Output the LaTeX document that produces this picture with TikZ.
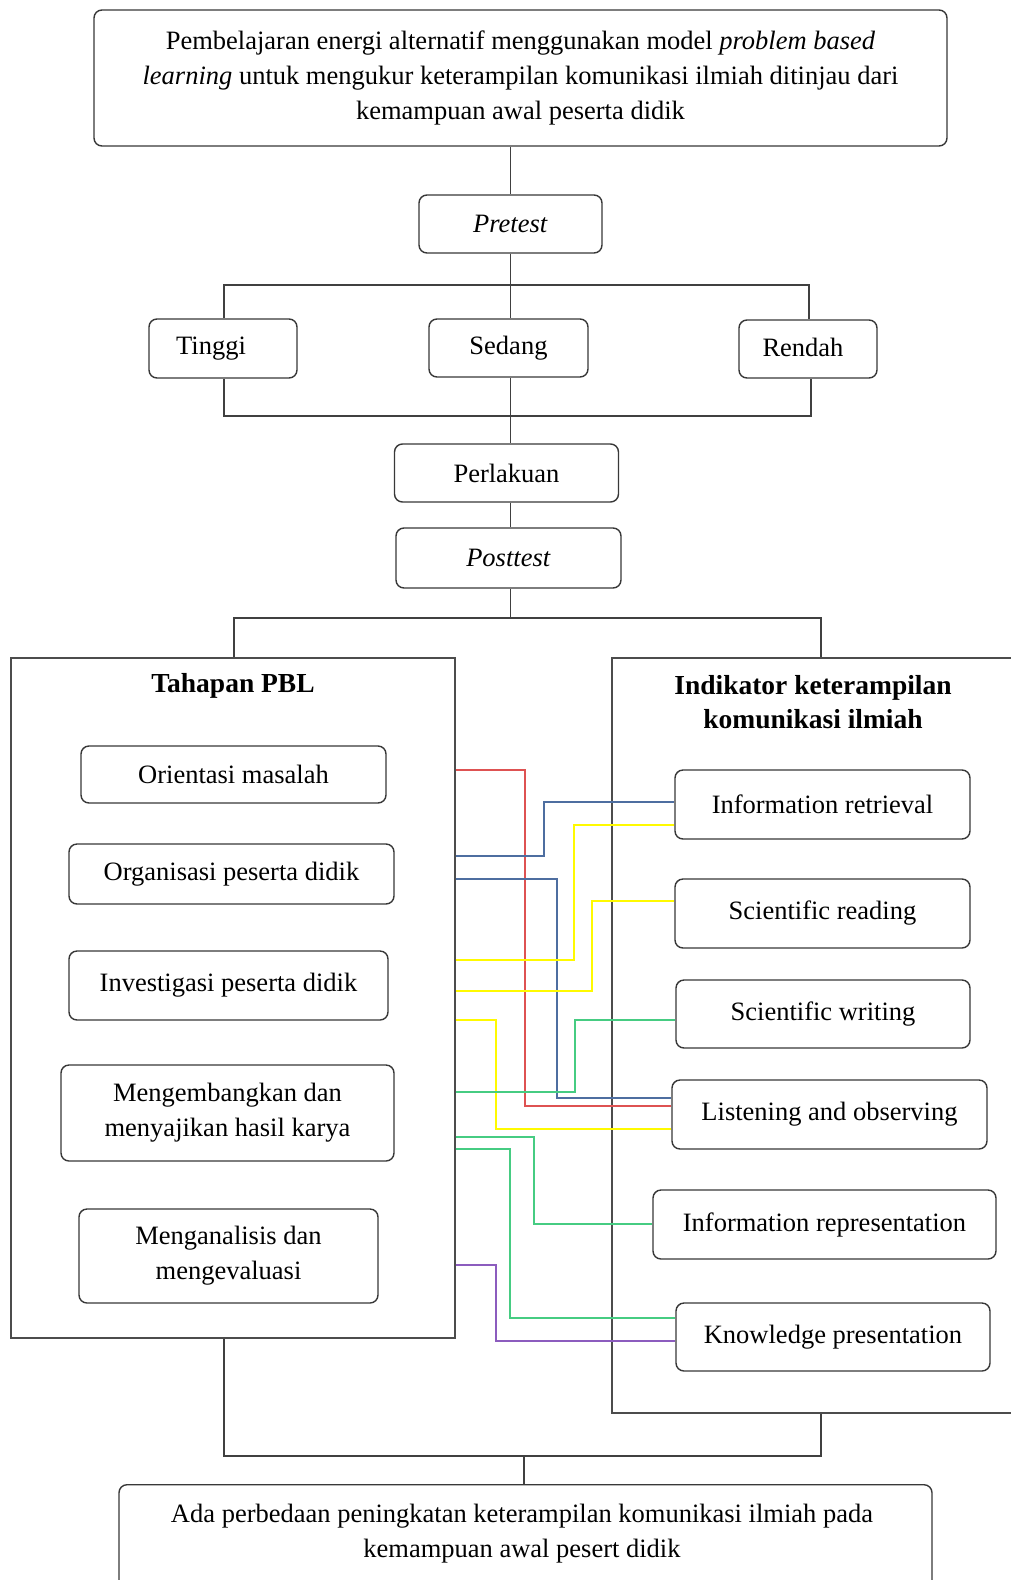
\documentclass[tikz,border=0pt]{standalone}
\usepackage{fontspec}
\setmainfont{Liberation Serif}
\begin{document}
\begin{tikzpicture}[x=1pt,y=-1pt,
  line width=1.3pt,
  box/.style={draw=black!78,rounded corners=8pt,line width=1.4pt,inner sep=0pt,align=center,
    font=\fontsize{26.5}{35}\selectfont},
  bigbox/.style={draw=black!70,line width=1.3pt,inner sep=0pt},
  conn/.style={draw=black!75,line width=1.3pt},
  ttl/.style={font=\fontsize{27.5}{34}\selectfont\bfseries,align=center,inner sep=0pt},
  cred/.style={draw=lred,line width=1.3pt},
  cblue/.style={draw=lblue,line width=1.3pt},
  cyel/.style={draw=lyel,line width=1.3pt},
  cgreen/.style={draw=lgreen,line width=1.3pt},
  cpurp/.style={draw=lpurp,line width=1.3pt}]
\definecolor{lred}{RGB}{222,82,82}
\definecolor{lblue}{RGB}{78,110,160}
\definecolor{lyel}{RGB}{255,250,0}
\definecolor{lgreen}{RGB}{70,204,130}
\definecolor{lpurp}{RGB}{140,92,190}
\useasboundingbox (0,0) rectangle (1011,1580);
\clip (0,0) rectangle (1011,1580);
\fill[white] (0,0) rectangle (1011,1580);

% top box
\node[box,minimum width=853pt,minimum height=136pt] (top) at (520.5,78)
  {Pembelajaran energi alternatif menggunakan model \textit{problem based}\\
   \textit{learning} untuk mengukur keterampilan komunikasi ilmiah ditinjau dari\\
   kemampuan awal peserta didik};
\node[box,minimum width=183pt,minimum height=58pt] (pre) at (510.5,224) {\textit{Pretest}};
\node[box,minimum width=148pt,minimum height=59pt] (ting) at (223,348.5) {Tinggi\hspace{24pt}};
\node[box,minimum width=159pt,minimum height=58pt] (sed) at (508.5,348) {Sedang};
\node[box,minimum width=138pt,minimum height=58pt] (ren) at (808,349) {\raisebox{3pt}{Rendah}\hspace{10pt}};
\node[box,minimum width=224pt,minimum height=58pt] (perl) at (506.5,473) {Perlakuan};
\node[box,minimum width=225pt,minimum height=60pt] (post) at (508.5,558) {\textit{Posttest}};

% big boxes
\node[bigbox,minimum width=444pt,minimum height=680pt] (L) at (233,998) {};
\node[bigbox,minimum width=403pt,minimum height=755pt] (R) at (813.5,1035.5) {};
\node[ttl] (Lt) at (233,686) {Tahapan PBL};
\node[ttl] (Rt) at (813,702) {Indikator keterampilan\\komunikasi ilmiah};

% left inner boxes
\node[box,minimum width=305pt,minimum height=57pt] (o1) at (233.5,774.5) {Orientasi masalah};
\node[box,minimum width=325pt,minimum height=60pt] (o2) at (231.5,874) {Organisasi peserta didik};
\node[box,minimum width=319pt,minimum height=69pt] (o3) at (228.5,985.5) {Investigasi peserta didik};
\node[box,minimum width=333pt,minimum height=96pt] (o4) at (227.5,1113) {Mengembangkan dan\\menyajikan hasil karya};
\node[box,minimum width=299pt,minimum height=94pt] (o5) at (228.5,1256) {Menganalisis dan\\mengevaluasi};

% right inner boxes
\node[box,minimum width=295pt,minimum height=69pt] (i1) at (822.5,804.5) {Information retrieval};
\node[box,minimum width=295pt,minimum height=69pt] (i2) at (822.5,913.5) {Scientific reading};
\node[box,minimum width=294pt,minimum height=68pt] (i3) at (823,1014) {Scientific writing};
\node[box,minimum width=315pt,minimum height=69pt] (i4) at (829.5,1114.5) {Listening and observing};
\node[box,minimum width=343pt,minimum height=69pt] (i5) at (824.5,1224.5) {Information representation};
\node[box,minimum width=314pt,minimum height=68pt] (i6) at (833,1337) {Knowledge presentation};

% bottom box
\node[box,minimum width=813pt,minimum height=120pt,anchor=north] (bot) at (525.5,1484) {};
\node[font=\fontsize{26.5}{35}\selectfont,align=center,inner sep=0pt] (bott) at (522,1534)
  {Ada perbedaan peningkatan keterampilan komunikasi ilmiah pada\\kemampuan awal pesert didik};

% black connectors
\draw[conn] (top.south -| pre.north) -- (pre.north);
\coordinate (b1) at (224,285);
\coordinate (b2) at (809,285);
\draw[conn] (pre.south) -- (pre.south |- b1);
\draw[conn] (ting.north -| b1) -- (b1) -- (b2) -- (ren.north -| b2);
\draw[conn] (pre.south |- b1) -- (pre.south |- sed.north);
\coordinate (c1) at (224,416);
\coordinate (c2) at (811,416);
\draw[conn] (ting.south -| c1) -- (c1) -- (c2) -- (ren.south -| c2);
\draw[conn] (sed.south -| pre.south) -- (pre.south |- c1) -- (pre.south |- perl.north);
\draw[conn] (perl.south -| pre.south) -- (pre.south |- post.north);
\coordinate (d1) at (234,618);
\coordinate (d2) at (821,618);
\draw[conn] (post.south -| pre.south) -- (pre.south |- d1);
\draw[conn] (L.north -| d1) -- (d1) -- (d2) -- (R.north -| d2);
\coordinate (e1) at (224,1456);
\coordinate (e2) at (821,1456);
\draw[conn] (L.south -| e1) -- (e1) -- (e2) -- (R.south -| e2);
\draw[conn] (524,1456) -- (bot.north -| 524,0);

% coloured connectors
\draw[cred]   (L.east |- 0,770)  -| (525,1106) -- (i4.west |- 0,1106);
\draw[cblue]  (L.east |- 0,856)  -| (544,802)  -- (i1.west |- 0,802);
\draw[cblue]  (L.east |- 0,879)  -| (557,1098) -- (i4.west |- 0,1098);
\draw[cyel]   (L.east |- 0,960)  -| (574,825)  -- (i1.west |- 0,825);
\draw[cyel]   (L.east |- 0,991)  -| (592,901)  -- (i2.west |- 0,901);
\draw[cyel]   (L.east |- 0,1020) -| (496,1129) -- (i4.west |- 0,1129);
\draw[cgreen] (L.east |- 0,1092) -| (575,1020) -- (i3.west |- 0,1020);
\draw[cgreen] (L.east |- 0,1137) -| (534,1224) -- (i5.west |- 0,1224);
\draw[cgreen] (L.east |- 0,1149) -| (510,1318) -- (i6.west |- 0,1318);
\draw[cpurp]  (L.east |- 0,1265) -| (496,1341) -- (i6.west |- 0,1341);
\end{tikzpicture}
\end{document}
